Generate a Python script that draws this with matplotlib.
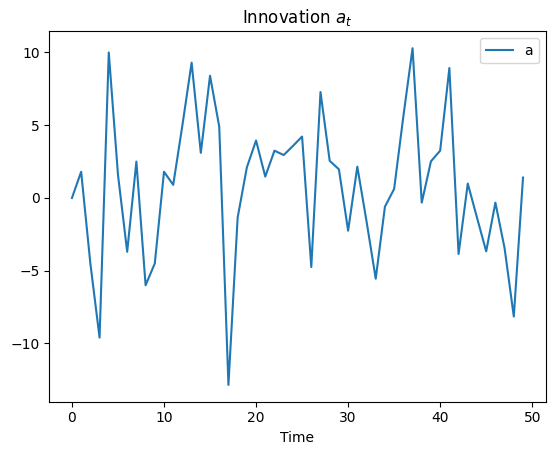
import numpy as np
import pandas as pd
from matplotlib import pyplot as plt

time = list(range(50))
a = [0.0, 1.8, -4.5, -9.6, 10.0, 1.6, -3.7, 2.5, -6.0, -4.5,
     1.8, 0.9, 5.0, 9.3, 3.1, 8.4, 4.9, -12.85, -1.35, 2.1,
     3.95, 1.47, 3.25, 2.95, 3.57, 4.22, -4.75, 7.28, 2.55, 1.97,
     -2.25, 2.15, -1.6, -5.55, -0.6, 0.62, 5.6, 10.29, -0.32, 2.52,
     3.25, 8.93, -3.85, 0.99, -1.35, -3.67, -0.32, -3.46, -8.15, 1.4]

df = pd.DataFrame({'a': a}, index=time)

fig, ax = plt.subplots(figsize=(5.55, 4.55), dpi=100)
fig.subplots_adjust(left=0.089, right=0.983, top=0.931, bottom=0.117)
df.plot(ax=ax)
ax.set_title('Innovation $a_t$')
ax.set_xlabel('Time')
plt.savefig('out.png')
